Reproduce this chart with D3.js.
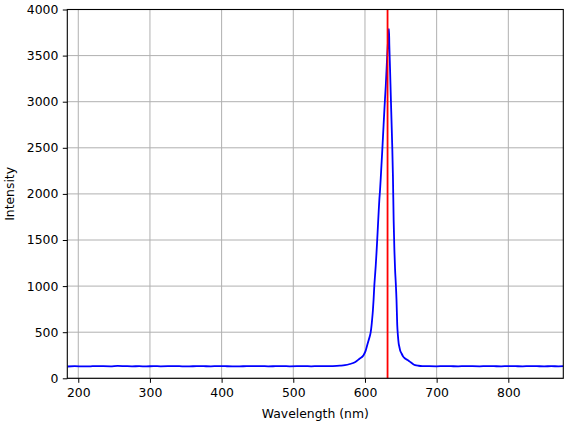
<!DOCTYPE html>
<html><head><meta charset="utf-8">
<script src="https://cdn.jsdelivr.net/npm/d3@7"></script>
<style>body{margin:0;background:#fff}svg{display:block}text{font-family:"DejaVu Sans",sans-serif}</style>
</head><body><svg id="c" width="571" height="422"></svg>
<script>
const wavelength = [185,195,205,215,225,235,245,255,265,275,285,295,305,315,325,335,345,355,365,375,385,395,405,415,425,435,445,455,465,475,485,495,505,515,525,535,545,555,565,572,579,586,592,598,601,603,605,607,608,609,610,611,612,613,614,615,616,617,618,619,620,621,622,623,624,625,626,627,628,629,630,631,632,633,633.5,634,635,636,637,638,639,640,641,642,643,644,645,646,647,648,649,651,653,656,660,663,666,670,675,680,690,700,710,720,730,740,750,760,770,780,790,800,810,820,830,840,850,860,870,877];
const intensity = [128,131,130,129,133,131,130,134,132,130,131,129,132,130,131,133,130,129,132,131,130,133,131,130,129,132,131,133,130,131,132,130,131,133,130,132,131,133,137,142,155,175,210,250,300,355,410,465,500,560,640,730,850,1000,1110,1220,1350,1490,1640,1790,1930,2040,2170,2310,2450,2600,2750,2900,3040,3170,3330,3500,3640,3750,3790,3610,3350,3070,2800,2530,2200,1720,1400,1180,1030,850,580,460,380,340,305,270,240,215,195,178,160,142,136,133,131,130,132,131,130,133,131,130,132,131,130,132,131,130,132,131,130,131,130,131];
const referenceLine = [631.5];
const xTicks = [200,300,400,500,600,700,800];
const yTicks = [0,500,1000,1500,2000,2500,3000,3500,4000];
const xLabel = "Wavelength (nm)", yLabel = "Intensity";

const L=67.3, R=563.3, T=9.5, B=378.3;
const svg=d3.select("#c");
const x=d3.scaleLinear().domain([184.7,876.7]).range([L,R]);
const y=d3.scaleLinear().domain([0,4000]).range([B,T]);

const g=svg.append("g");
g.selectAll("line.gx").data(xTicks).join("line").attr("x1",d=>x(d)).attr("x2",d=>x(d)).attr("y1",T).attr("y2",B).attr("stroke","#b0b0b0").attr("stroke-width",1);
g.selectAll("line.gy").data(yTicks).join("line").attr("y1",d=>y(d)).attr("y2",d=>y(d)).attr("x1",L).attr("x2",R).attr("stroke","#b0b0b0").attr("stroke-width",1);

svg.append("clipPath").attr("id","clip").append("rect").attr("x",L).attr("y",T).attr("width",R-L).attr("height",B-T);
const pts=wavelength.map((w,i)=>[w,intensity[i]]);
svg.append("path").attr("clip-path","url(#clip)").attr("d",d3.line().curve(d3.curveMonotoneX).x(d=>x(d[0])).y(d=>y(d[1]))(pts))
  .attr("fill","none").attr("stroke","#0000ff").attr("stroke-width",1.8).attr("stroke-linejoin","round");
svg.selectAll("line.ref").data(referenceLine).join("line").attr("x1",d=>x(d)).attr("x2",d=>x(d)).attr("y1",T).attr("y2",B)
  .attr("stroke","#ff0000").attr("stroke-width",1.8);

const xa=svg.append("g").attr("transform",`translate(0,${B})`).call(d3.axisBottom(x).tickValues(xTicks).tickSize(4.5).tickPadding(5).tickFormat(d3.format("d")));
const ya=svg.append("g").attr("transform",`translate(${L},0)`).call(d3.axisLeft(y).tickValues(yTicks).tickSize(4.5).tickPadding(4.5).tickFormat(d3.format("d")));
[xa,ya].forEach(a=>{a.select(".domain").remove();a.selectAll("line").attr("stroke","#000").attr("stroke-width",1);a.selectAll("text").attr("font-size",12.4).attr("fill","#000").style("font-family","DejaVu Sans");});
svg.append("rect").attr("x",L).attr("y",T).attr("width",R-L).attr("height",B-T).attr("fill","none").attr("stroke","#000").attr("stroke-width",1.1);

svg.append("text").attr("x",(L+R)/2).attr("y",418).attr("text-anchor","middle").attr("font-size",12.4).text(xLabel);
svg.append("text").attr("transform",`translate(14,${(T+B)/2}) rotate(-90)`).attr("text-anchor","middle").attr("font-size",12.4).text(yLabel);
</script></body></html>
